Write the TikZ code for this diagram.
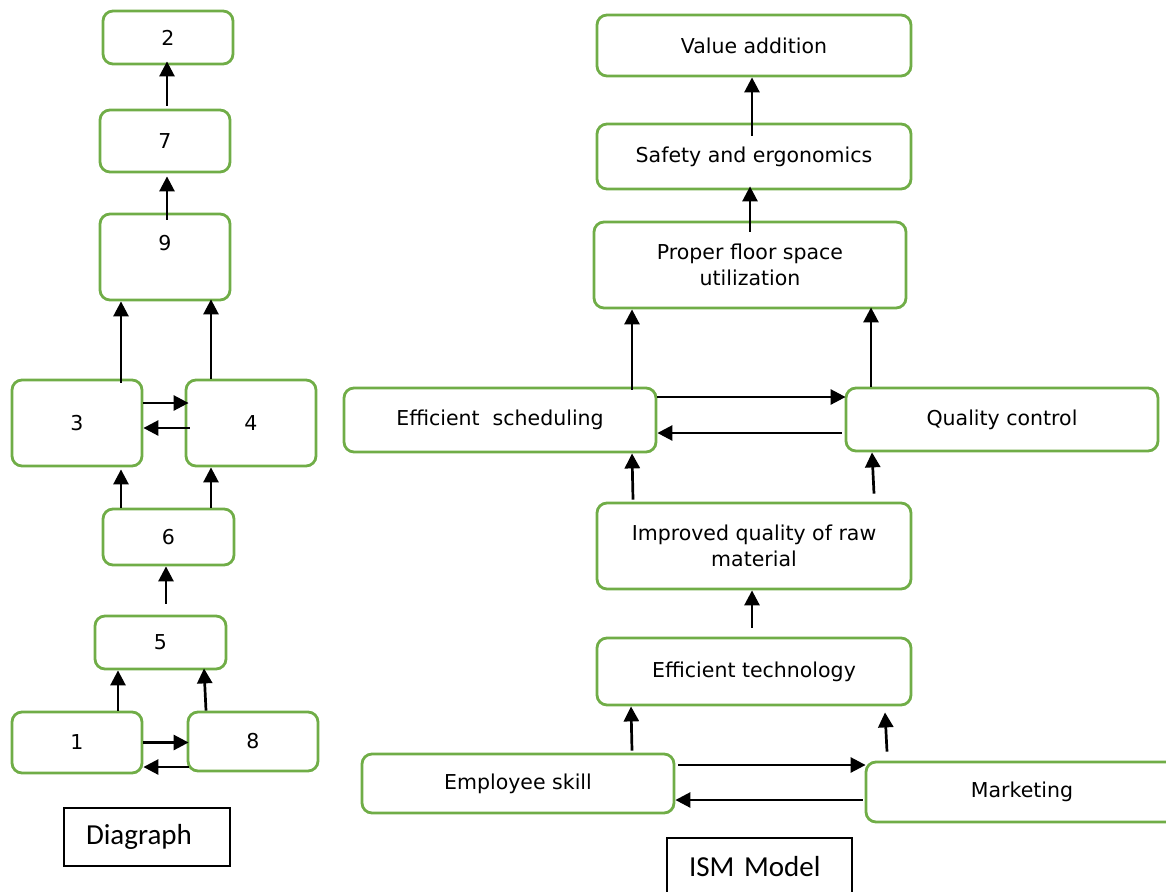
\documentclass[tikz,border=0pt]{standalone}
\usepackage{fontspec}
\setmainfont{DejaVu Sans}
\newfontfamily\captionfont{Carlito}
\usepackage{tikz}
\usetikzlibrary{arrows.meta, positioning}
\definecolor{boxgreen}{RGB}{112, 173, 71}

\begin{document}
\begin{tikzpicture}[
    x=1pt, y=-1pt,
    every node/.style={font=\fontsize{20.5}{26}\selectfont},
    factor/.style={rectangle, rounded corners=10pt, draw=boxgreen, line width=2.8pt, align=center, inner sep=2pt},
    small/.style={factor, minimum width=130pt},
    wide/.style={factor, minimum width=312pt},
    caption/.style={rectangle, draw=black, line width=1.6pt, font=\captionfont\fontsize{29}{34}\selectfont, minimum height=58pt, inner xsep=22pt, align=left},
    link/.style={-{Triangle[length=15pt,width=15pt]}, line width=2.7pt}
]
\useasboundingbox (0,0) rectangle (1166,891);

% Diagraph
\node[small, minimum height=53pt] (n2) at (168,37.5) {2};
\node[small, minimum height=62pt] (n7) at (165,141) {7};
\node[small, minimum height=86pt, text height=15pt, text depth=29pt] (n9) at (165,257) {9};
\node[small, minimum height=86pt] (n3) at (77,423) {3};
\node[small, minimum height=86pt] (n4) at (251,423) {4};
\node[small, minimum width=131pt, minimum height=56pt] (n6) at (168.5,537) {6};
\node[small, minimum width=131pt, minimum height=53pt] (n5) at (160.5,642.5) {5};
\node[small, minimum height=61pt] (n1) at (77,742.5) {1};
\node[small, minimum height=59pt] (n8) at (253,741.5) {8};
\node[caption, text width=122pt] (diagraph) at (147,837) {Diagraph};

\draw[link] ([xshift=2pt,yshift=3pt]n7.north) -- ([xshift=-1pt,yshift=4pt]n2.south);
\draw[link] ([xshift=2pt,yshift=-7pt]n9.north) -- ([xshift=2pt,yshift=-3pt]n7.south);
\draw[link] ([xshift=44pt,yshift=-4pt]n3.north) -- ([xshift=-44pt]n9.south);
\draw[link] ([xshift=-40pt]n4.north) -- ([xshift=46pt,yshift=2pt]n9.south);
\draw[link] ([yshift=20pt]n3.east) -- ([xshift=4pt,yshift=20pt]n4.west);
\draw[link] ([xshift=5pt,yshift=-5pt]n4.west) -- ([yshift=-5pt]n3.east);
\draw[link] ([xshift=-47.5pt]n6.north) -- ([xshift=44pt,yshift=-2pt]n3.south);
\draw[link] ([xshift=42.5pt]n6.north) -- ([xshift=-40pt]n4.south);
\draw[link] ([xshift=5.5pt,yshift=10.75pt]n5.north) -- ([xshift=-2.5pt]n6.south);
\draw[link] ([xshift=41pt]n1.north) -- ([xshift=-42.5pt]n5.south);
\draw[link] ([xshift=-47pt]n8.north) -- ([xshift=43.5pt,yshift=2pt]n5.south);
\draw[link] (n1.east) -- ([xshift=2pt,yshift=-1pt]n8.west);
\draw[link] ([xshift=2pt,yshift=-25.5pt]n8.west) -- ([yshift=-24.5pt]n1.east);

% ISM model
\node[wide, minimum width=314pt, minimum height=61pt] (value) at (754,45.5) {Value addition};
\node[wide, minimum width=314pt, minimum height=65pt] (safety) at (754,156.5) {Safety and ergonomics};
\node[wide, minimum height=86pt] (floor) at (750,265) {Proper floor space\\utilization};
\node[wide, minimum height=64pt] (schedule) at (500,420) {Efficient\ \ scheduling};
\node[wide, minimum height=63pt] (quality) at (1002,419.5) {Quality control};
\node[wide, minimum width=314pt, minimum height=86pt] (rawmat) at (754,546) {Improved quality of raw\\material};
\node[wide, minimum width=314pt, minimum height=67pt] (techno) at (754,671.5) {Efficient technology};
\node[wide, minimum height=59pt] (skill) at (518,783.5) {Employee skill};
\node[wide, minimum height=60pt] (market) at (1022,792) {Marketing};
\node[caption, text width=141pt] (ism) at (759.5,867) {ISM Model};

\draw[link] ([xshift=-2pt,yshift=-13pt]safety.north) -- ([xshift=-2pt]value.south);
\draw[link] ([yshift=-11pt]floor.north) -- ([xshift=-4pt,yshift=4pt]safety.south);
\draw[link] ([xshift=132pt,yshift=-3pt]schedule.north) -- ([xshift=-118pt]floor.south);
\draw[link] ([xshift=-131pt]quality.north) -- ([xshift=121pt,yshift=2pt]floor.south);
\draw[link] ([yshift=23pt]schedule.east) -- ([xshift=1pt,yshift=22.5pt]quality.west);
\draw[link] ([xshift=-3pt,yshift=-13.5pt]quality.west) -- ([yshift=-13pt]schedule.east);
\draw[link] ([xshift=-121pt,yshift=2pt]rawmat.north) -- ([xshift=132pt]schedule.south);
\draw[link] ([xshift=120pt,yshift=8pt]rawmat.north) -- ([xshift=-130pt]quality.south);
\draw[link] ([xshift=-2pt,yshift=9pt]techno.north) -- ([xshift=-2pt]rawmat.south);
\draw[link] ([xshift=114pt,yshift=2pt]skill.north) -- ([xshift=-123pt]techno.south);
\draw[link] ([xshift=-135pt,yshift=9pt]market.north) -- ([xshift=131pt,yshift=-6pt]techno.south);
\draw[link] ([xshift=3pt,yshift=18.5pt]skill.east) -- ([xshift=1pt,yshift=27pt]market.west);
\draw[link] ([xshift=-2pt,yshift=-8pt]market.west) -- ([yshift=-16.5pt]skill.east);

\end{tikzpicture}
\end{document}
